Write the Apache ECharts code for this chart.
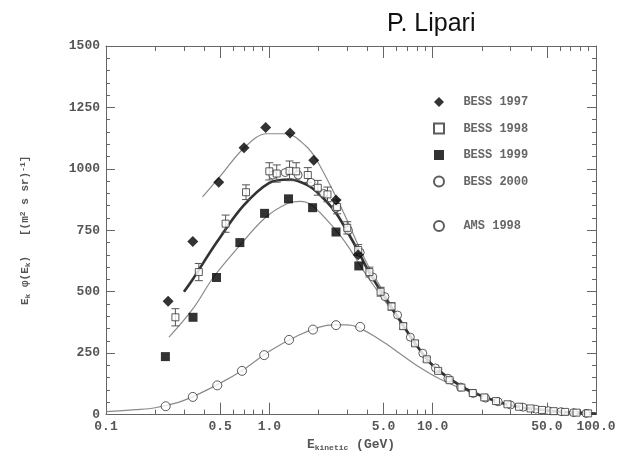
<!DOCTYPE html>
<html><head><meta charset="utf-8">
<script src="https://cdn.jsdelivr.net/npm/echarts@6/dist/echarts.min.js"></script>
<style>html,body{margin:0;padding:0;background:#fff}#c{width:626px;height:457px}</style>
</head><body><div id="c"></div>
<script>
// ---- data ----
const bess97E = [0.24, 0.34, 0.49, 0.70, 0.95, 1.34, 1.87, 2.56, 3.5];
const bess97V = [461, 704, 946, 1086, 1168, 1146, 1035, 873, 650];

const bess98E = [0.266, 0.37, 0.54, 0.72, 1.0, 1.11, 1.33, 1.46, 1.72, 1.98, 2.27, 2.6, 3.0, 3.5, 4.1, 4.8, 5.6, 6.6, 7.8, 9.2, 10.8, 12.7, 15, 17.6, 20.7, 24.4, 28.7, 33.8, 39.7, 46.7, 55, 64.7, 76, 89.5];
const bess98V = [396, 580, 777, 905, 990, 981, 992, 990, 975, 923, 896, 845, 760, 670, 580, 500, 440, 360, 290, 225, 178, 140, 110, 88, 70, 55, 42, 32, 25, 19, 14, 11, 8, 5];
const bess98Err = [35, 35, 35, 30, 35, 35, 40, 35, 30, 30, 30, 28, 25, 22, 20, 18, 15, 12, 10, 8, 7, 6, 5, 4, 3, 3, 2, 2, 2, 2, 2, 1, 1, 1];

const bess99E = [0.231, 0.341, 0.475, 0.66, 0.935, 1.31, 1.84, 2.56, 3.53];
const bess99V = [236, 396, 558, 700, 819, 878, 842, 743, 605];

const bess00E = [1.05, 1.25, 1.5, 1.8, 2.15, 2.55, 3.05, 3.6, 4.3, 5.1, 6.1, 7.3, 8.7, 10.4, 12.4, 14.8, 17.7, 21.1, 25.2, 30, 35.8, 42.8, 51, 61, 72.8, 86.9];
const bess00V = [975, 985, 975, 945, 900, 840, 750, 660, 560, 480, 405, 315, 250, 190, 148, 112, 86, 67, 52, 39, 30, 22, 16, 12, 8, 5];

const ams98E = [0.232, 0.34, 0.48, 0.68, 0.93, 1.32, 1.85, 2.56, 3.6];
const ams98V = [34, 72, 119, 178, 242, 304, 346, 364, 357];

const fit97E = [0.39, 0.5, 0.7, 0.96, 1.27, 1.68, 1.94, 2.5, 3.0, 3.5, 4.0, 5.0, 6.0, 8.0, 10, 15, 20, 30, 50, 70, 100];
const fit97V = [886, 970, 1085, 1143, 1143, 1092, 1038, 900, 790, 690, 610, 500, 410, 285, 205, 118, 77, 38, 17, 9, 4];

const fit98E = [0.30, 0.34, 0.475, 0.69, 1.0, 1.33, 1.7, 2.0, 2.5, 3.0, 3.5, 4.0, 5.0, 6.0, 8.0, 10, 15, 20, 30, 50, 70, 100];
const fit98V = [500, 551, 700, 848, 943, 957, 935, 900, 830, 745, 665, 590, 485, 405, 280, 200, 115, 76, 38, 17, 9, 4];

const fit99E = [0.243, 0.34, 0.454, 0.63, 0.94, 1.3, 1.55, 1.84, 2.56, 3.0, 3.5, 4.0, 5.0, 6.0, 8.0, 10, 15, 20, 30, 50, 70, 100];
const fit99V = [315, 430, 558, 673, 800, 860, 868, 850, 750, 690, 620, 560, 470, 400, 280, 200, 115, 76, 38, 17, 9, 4];

const amsFitE = [0.1, 0.15, 0.2, 0.3, 0.5, 0.7, 1.0, 1.5, 2.0, 2.5, 3.0, 3.5, 4.5, 5.4, 6.2, 8, 11, 16, 20, 30, 50, 100];
const amsFitV = [12, 20, 28, 58, 128, 185, 258, 322, 355, 365, 365, 355, 315, 280, 252, 200, 146, 98, 74, 38, 17, 4];

const xMajorTicks = [0.1, 0.5, 1, 5, 10, 50, 100];
const xTickLabels = ['0.1', '0.5', '1.0', '5.0', '10.0', '50.0', '100.0'];
const xMinorTicks = [0.2, 0.3, 0.4, 0.6, 0.7, 0.8, 0.9, 2, 3, 4, 6, 7, 8, 9, 20, 30, 40, 60, 70, 80, 90];
const yTickLabels = ['0', '250', '500', '750', '1000', '1250', '1500'];

// ---- helpers ----
const pairs = (xs, ys) => xs.map((x, i) => [x, ys[i]]);
const lg = v => Math.max(-1, Math.min(2, Math.round(Math.log10(v) * 1e9) / 1e9));
const majorLog = xMajorTicks.map(lg);
const minorLog = xMinorTicks.map(lg);
const AX = '#666';
const TXT = '#555';
const MONO = 'Liberation Mono';

function tickAxis(position, custom, len, withLabels, withLine) {
  const a = {
    type: 'value', min: -1, max: 2, position: position, gridIndex: 0,
    axisLine: { show: withLine, onZero: false, lineStyle: { color: AX, width: 1 } },
    axisTick: { show: true, inside: true, length: len, customValues: custom, lineStyle: { color: AX } },
    axisLabel: { show: false },
    splitLine: { show: false }
  };
  if (withLabels) {
    a.axisLabel = {
      show: true, customValues: custom, margin: 6, hideOverlap: false,
      color: TXT, fontFamily: MONO, fontSize: 13, fontWeight: 'bold',
      formatter: v => {
        const i = majorLog.findIndex(m => Math.abs(m - v) < 1e-6);
        return i >= 0 ? xTickLabels[i] : '';
      }
    };
    a.name = 'E{s|kinetic} (GeV)';
    a.nameLocation = 'middle';
    a.nameGap = 21;
    a.nameTextStyle = { color: TXT, fontFamily: MONO, fontSize: 13, fontWeight: 'bold',
      rich: { s: { fontSize: 8, fontFamily: MONO, fontWeight: 'bold', color: TXT, verticalAlign: 'bottom', padding: [6, 0, 0, 0] } } };
  }
  return a;
}

function yAx(position, labels) {
  return {
    type: 'value', min: 0, max: 1500, interval: 250, position: position,
    axisLine: { show: true, onZero: false, lineStyle: { color: AX, width: 1 } },
    axisTick: { show: true, inside: true, length: 9, lineStyle: { color: AX } },
    minorTick: { show: true, splitNumber: 5, length: 4, lineStyle: { color: AX } },
    splitLine: { show: false },
    axisLabel: labels ? {
      show: true, color: TXT, fontFamily: MONO, fontSize: 13, fontWeight: 'bold', margin: 6,
      formatter: v => yTickLabels[Math.round(v / 250)]
    } : { show: false },
    name: labels ? 'E{s|k} \u03c6(E{s|k})   [(m{p|2} s sr){p|-1}]' : '',
    nameLocation: 'middle', nameRotate: 90, nameGap: 74,
    nameTextStyle: { color: TXT, fontFamily: MONO, fontSize: 11, fontWeight: 'bold',
      rich: {
        s: { fontSize: 8, fontFamily: MONO, fontWeight: 'bold', color: TXT, padding: [5, 0, 0, 0] },
        p: { fontSize: 8, fontFamily: MONO, fontWeight: 'bold', color: TXT, padding: [0, 0, 5, 0] }
      } }
  };
}

const chart = echarts.init(document.getElementById('c'), null, { renderer: 'canvas' });

const fitLine = (name, xs, ys, color, width) => ({
  name: name, type: 'line', xAxisIndex: 0, yAxisIndex: 0, data: pairs(xs, ys),
  symbol: 'none', smooth: 0.35, silent: true, z: 2,
  lineStyle: { color: color, width: width }
});

const openStyle = { color: '#fff', borderColor: '#333', borderWidth: 1 };
const fillStyle = { color: '#000', borderColor: '#000', borderWidth: 0 };

chart.setOption({
  animation: false,
  backgroundColor: '#fff',
  title: { text: 'P. Lipari', left: 382, top: 7,
    textStyle: { fontFamily: 'Liberation Sans', fontSize: 25, fontWeight: 'normal', color: '#111' } },
  grid: { left: 106, right: 30, top: 46, bottom: 41, containLabel: false },
  legend: [
    { data: [ { name: 'BESS 1997', icon: 'diamond' }, { name: 'BESS 1998', icon: 'rect' },
              { name: 'BESS 1999', icon: 'rect' }, { name: 'BESS 2000', icon: 'circle' } ],
      orient: 'vertical', left: 428, top: 91, itemWidth: 10, itemHeight: 10, itemGap: 14.5,
      formatter: '  {name}', selectedMode: false,
      textStyle: { fontFamily: MONO, fontSize: 12, color: '#666', fontWeight: 'bold' } },
    { data: [ { name: 'AMS 1998', icon: 'circle' } ],
      orient: 'vertical', left: 428, top: 215, itemWidth: 10, itemHeight: 10,
      formatter: '  {name}', selectedMode: false,
      textStyle: { fontFamily: MONO, fontSize: 12, color: '#666', fontWeight: 'bold' } }
  ],
  xAxis: [
    { type: 'log', logBase: 10, min: 0.1, max: 100, show: false, position: 'bottom',
      axisLine: { show: false, onZero: false }, axisTick: { show: false }, axisLabel: { show: false }, splitLine: { show: false } },
    tickAxis('bottom', majorLog, 12, true, true),
    tickAxis('bottom', minorLog, 5, false, false),
    tickAxis('top', majorLog, 12, false, true),
    tickAxis('top', minorLog, 5, false, false)
  ],
  yAxis: [ yAx('left', true), yAx('right', false) ],
  series: [
    fitLine('fit1997', fit97E, fit97V, '#8a8a8a', 1.2),
    fitLine('fit1999', fit99E, fit99V, '#8a8a8a', 1.2),
    fitLine('fitAMS', amsFitE, amsFitV, '#8a8a8a', 1.2),
    fitLine('fit1998', fit98E, fit98V, '#333', 2.6),
    {
      name: 'err1998', type: 'custom', xAxisIndex: 0, yAxisIndex: 0, silent: true, z: 3,
      data: bess98E.map((e, i) => [e, bess98V[i] - bess98Err[i], bess98V[i] + bess98Err[i]]),
      encode: { x: 0, y: [1, 2] },
      renderItem: (params, api) => {
        const x = api.value(0);
        const lo = api.coord([x, api.value(1)]);
        const hi = api.coord([x, api.value(2)]);
        const st = { stroke: '#555', lineWidth: 1 };
        return { type: 'group', children: [
          { type: 'line', shape: { x1: lo[0], y1: lo[1], x2: hi[0], y2: hi[1] }, style: st },
          { type: 'line', shape: { x1: lo[0] - 4, y1: lo[1], x2: lo[0] + 4, y2: lo[1] }, style: st },
          { type: 'line', shape: { x1: hi[0] - 4, y1: hi[1], x2: hi[0] + 4, y2: hi[1] }, style: st }
        ] };
      }
    },
    { name: 'BESS 2000', type: 'scatter', xAxisIndex: 0, yAxisIndex: 0, data: pairs(bess00E, bess00V),
      symbol: 'circle', symbolSize: 8, itemStyle: openStyle, z: 4 },
    { name: 'BESS 1998', type: 'scatter', xAxisIndex: 0, yAxisIndex: 0, data: pairs(bess98E, bess98V),
      symbol: 'rect', symbolSize: 7, itemStyle: openStyle, z: 5 },
    { name: 'AMS 1998', type: 'scatter', xAxisIndex: 0, yAxisIndex: 0, data: pairs(ams98E, ams98V),
      symbol: 'circle', symbolSize: 9, itemStyle: openStyle, z: 5 },
    { name: 'BESS 1999', type: 'scatter', xAxisIndex: 0, yAxisIndex: 0, data: pairs(bess99E, bess99V),
      symbol: 'rect', symbolSize: 9, itemStyle: fillStyle, z: 6 },
    { name: 'BESS 1997', type: 'scatter', xAxisIndex: 0, yAxisIndex: 0, data: pairs(bess97E, bess97V),
      symbol: 'diamond', symbolSize: 11, itemStyle: fillStyle, z: 6 }
  ]
});
</script>
</body></html>
